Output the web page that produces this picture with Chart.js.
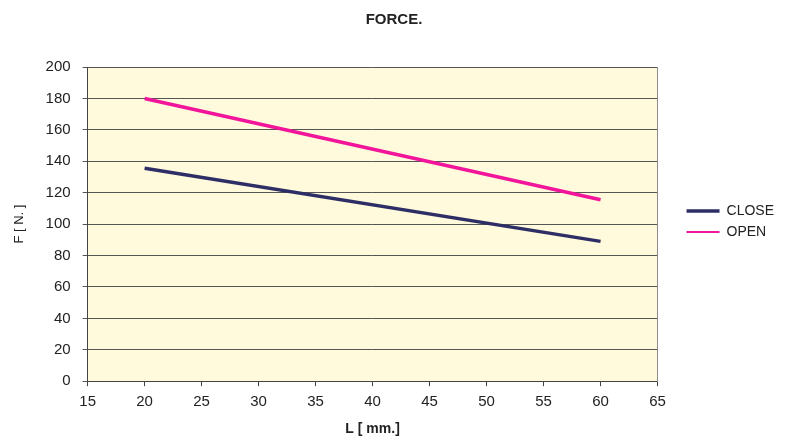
<!DOCTYPE html>
<html>
<head>
<meta charset="utf-8">
<script src="https://cdn.jsdelivr.net/npm/chart.js@4"></script>
<style>
  html, body { margin: 0; padding: 0; background: #fff; }
  #wrap { width: 787px; height: 438px; }
</style>
</head>
<body>
<div id="wrap"><canvas id="forceChart" width="787" height="438"></canvas></div>
<script>
// Data
const lengths = [20, 60];          // L [ mm.]
const closeForce = [135.5, 89];    // CLOSE
const openForce = [180, 115.5];    // OPEN

// plot background
const plotBg = {
    id: 'plotBg',
    beforeDraw(chart) {
        const { ctx, chartArea: a } = chart;
        ctx.save();
        ctx.fillStyle = '#FFFADC';
        ctx.fillRect(a.left, a.top, a.right - a.left, a.bottom - a.top);
        ctx.restore();
    }
};

const ctx = document.getElementById('forceChart').getContext('2d');
new Chart(ctx, {
    type: 'line',
    data: {
        datasets: [{
            label: 'CLOSE',
            data: lengths.map((x, i) => ({ x: x, y: closeForce[i] })),
            borderColor: '#2E2E66',
            backgroundColor: '#2E2E66',
            borderWidth: 3.5,
            pointRadius: 0,
            tension: 0
        }, {
            label: 'OPEN',
            data: lengths.map((x, i) => ({ x: x, y: openForce[i] })),
            borderColor: '#F0159A',
            backgroundColor: '#F0159A',
            borderWidth: 3.5,
            pointRadius: 0,
            tension: 0
        }]
    },
    options: {
        responsive: false,
        animation: false,
        layout: { padding: { top: 5, right: 3, left: 4, bottom: 0 } },
        plugins: {
            title: {
                display: true,
                text: 'FORCE.',
                color: '#222',
                font: { family: 'Liberation Sans', size: 15, weight: 'bold' },
                padding: { top: 6, bottom: 38 }
            },
            legend: {
                position: 'right',
                labels: {
                    usePointStyle: true,
                    pointStyleWidth: 33,
                    boxHeight: 2,
                    color: '#222',
                    font: { family: 'Liberation Sans', size: 14 },
                    padding: 7,
                    generateLabels(chart) {
                        return chart.data.datasets.map((d, i) => ({
                            text: d.label,
                            fillStyle: d.borderColor,
                            strokeStyle: d.borderColor,
                            lineWidth: i === 0 ? 3.5 : 2,
                            pointStyle: 'line',
                            fontColor: '#222',
                            datasetIndex: i
                        }));
                    }
                }
            },
            tooltip: { enabled: false }
        },
        scales: {
            x: {
                type: 'linear',
                min: 15,
                max: 65,
                ticks: { stepSize: 5, color: '#222', font: { family: 'Liberation Sans', size: 15 }, padding: 7 },
                grid: { drawOnChartArea: false, drawTicks: true, tickLength: 5, color: '#444' },
                border: { color: '#444', width: 1 },
                title: {
                    display: true,
                    text: 'L [ mm.]',
                    color: '#222',
                    font: { family: 'Liberation Sans', size: 14, weight: 'bold' },
                    padding: { top: 3, bottom: 0 }
                }
            },
            y: {
                min: 0,
                max: 200,
                ticks: { stepSize: 20, color: '#222', font: { family: 'Liberation Sans', size: 15 }, padding: 12 },
                grid: { color: '#555', tickLength: 5, lineWidth: 1 },
                border: { color: '#444', width: 1 },
                title: {
                    display: true,
                    text: 'F [ N. ]',
                    color: '#222',
                    font: { family: 'Liberation Sans', size: 13 },
                    padding: { top: 8, bottom: 6 }
                }
            },
            // right frame of the plot area, also keeps a gap before the legend
            yFrame: {
                position: 'right',
                display: true,
                min: 0,
                max: 200,
                ticks: { display: false },
                grid: { drawOnChartArea: false, drawTicks: false },
                border: { color: '#8c8c8c', width: 1 },
                afterFit(scale) { scale.width = 22; }
            }
        }
    },
    plugins: [plotBg]
});
</script>
</body>
</html>
